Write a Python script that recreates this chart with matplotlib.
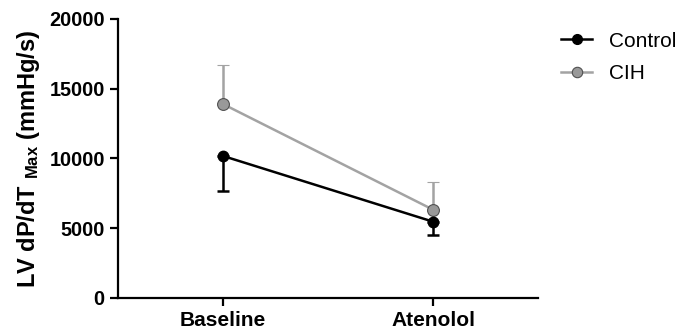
import matplotlib
matplotlib.use("Agg")
import matplotlib.pyplot as plt
from matplotlib.lines import Line2D

# data
groups = ["Baseline", "Atenolol"]
control_mean = [10180, 5470]
control_err = [2510, 980]
cih_mean = [13900, 6330]
cih_err = [2800, 2010]

plt.rcParams["font.family"] = "Liberation Sans"
plt.rcParams["mathtext.fontset"] = "custom"
plt.rcParams["mathtext.rm"] = "Liberation Sans:bold"
plt.rcParams["mathtext.default"] = "rm"

fig = plt.figure(figsize=(6.82, 3.31), dpi=100)
ax = fig.add_axes([0.173, 0.0997, 0.616, 0.843])

x = list(range(len(groups)))
black = "#000000"
grey = "#A3A3A3"

# control: error bars downward only, CIH: upward only
ax.errorbar(x, control_mean, yerr=[control_err, [0, 0]], color=black, lw=1.8,
            marker="o", ms=7.5, mfc=black, mec=black, capsize=4.5, capthick=1.8,
            elinewidth=1.8, zorder=3)
ax.errorbar(x, cih_mean, yerr=[[0, 0], cih_err], color=grey, lw=1.8,
            marker="o", ms=8.5, mfc="#999999", mec="#505050", mew=0.8,
            capsize=4.5, capthick=1.8, elinewidth=1.8, zorder=2)

ax.set_xlim(-0.5, 1.5)
ax.set_ylim(0, 20000)
ax.set_yticks([0, 5000, 10000, 15000, 20000])
ax.set_xticks(x)
ax.set_xticklabels(groups)

for s in ["top", "right"]:
    ax.spines[s].set_visible(False)
for s in ["left", "bottom"]:
    ax.spines[s].set_linewidth(1.6)
ax.tick_params(width=1.6, length=6)
ax.tick_params(axis="y", labelsize=14.3)
ax.tick_params(axis="x", labelsize=15)
for lab in ax.get_xticklabels() + ax.get_yticklabels():
    lab.set_fontweight("bold")

ax.set_ylabel(r"LV dP/dT $_{\mathrm{Max}}$ (mmHg/s)", fontsize=17,
              fontweight="bold", labelpad=5)

handles = [
    Line2D([], [], color=black, lw=1.8, marker="o", ms=7, mfc=black, mec=black),
    Line2D([], [], color=grey, lw=1.8, marker="o", ms=7.5, mfc="#999999",
           mec="#505050", mew=0.8),
]
ax.legend(handles, ["Control", "CIH"], loc="upper left",
          bbox_to_anchor=(1.01, 1.022), frameon=False, fontsize=15,
          handlelength=1.5, handletextpad=0.8, labelspacing=0.65)

fig.savefig("out.png", dpi=100)
